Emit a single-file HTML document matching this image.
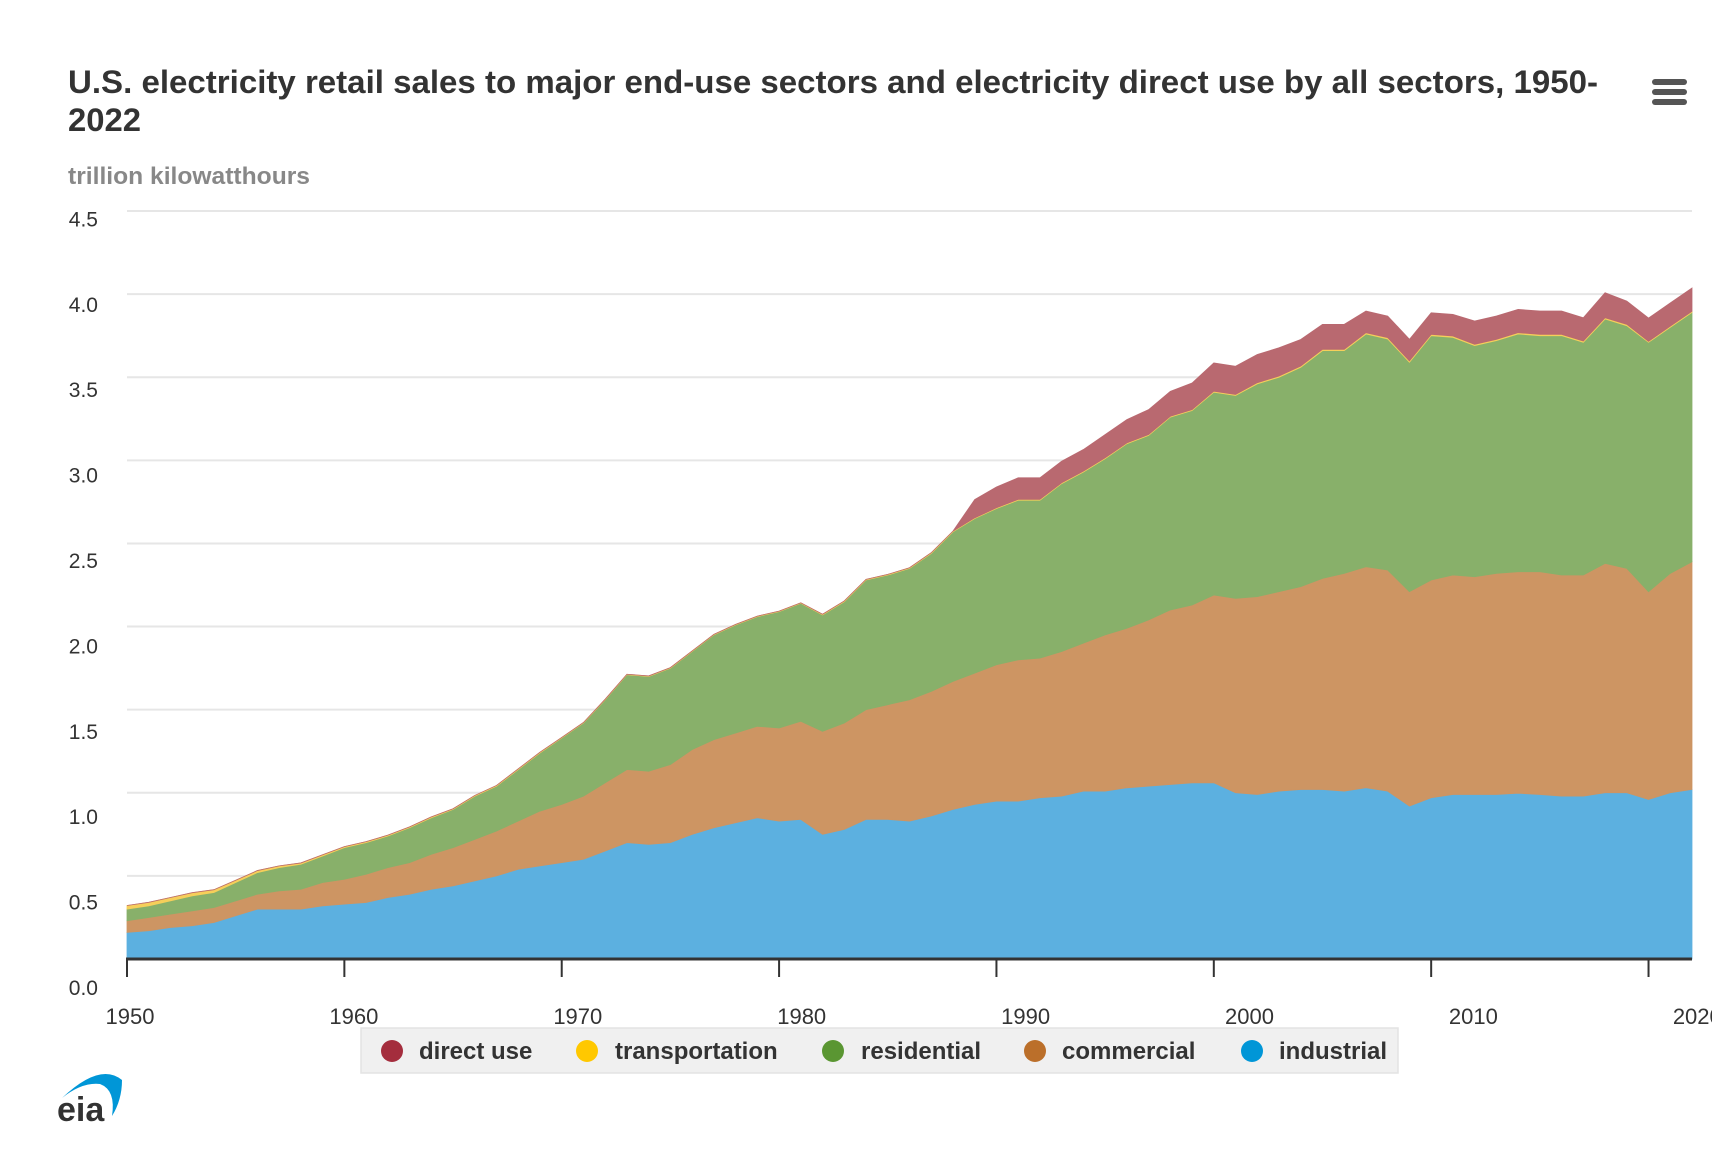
<!DOCTYPE html>
<html><head><meta charset="utf-8">
<style>
body{margin:0;background:#fff;width:1712px;height:1146px;overflow:hidden;font-family:"Liberation Sans",sans-serif;}
svg text{font-family:"Liberation Sans",sans-serif;}
</style></head>
<body>
<svg id="chart" width="1712" height="1146" xmlns="http://www.w3.org/2000/svg">
<text x="68" y="93" font-size="32" font-weight="bold" fill="#333" textLength="1530" lengthAdjust="spacingAndGlyphs">U.S. electricity retail sales to major end-use sectors and electricity direct use by all sectors, 1950-</text>
<text x="68" y="131" font-size="32" font-weight="bold" fill="#333" textLength="73" lengthAdjust="spacingAndGlyphs">2022</text>
<text x="68" y="184" font-size="24" font-weight="bold" fill="#888" textLength="242" lengthAdjust="spacingAndGlyphs">trillion kilowatthours</text>
<g fill="#555">
<rect x="1652" y="79" width="35" height="6" rx="3"/><rect x="1652" y="89" width="35" height="6" rx="3"/><rect x="1652" y="99" width="35" height="6" rx="3"/>
</g>
<g id="grid"></g><g id="areas"></g><g id="axes"></g>
<g>
<rect x="361" y="1028" width="1037" height="45" fill="#f0f0f0" stroke="#e3e3e3" stroke-width="1.5"/>
<g><circle cx="392" cy="1051" r="11" fill="#a42d3d"/><text x="419" y="1059" font-size="24" font-weight="bold" fill="#333">direct use</text></g>
<g><circle cx="587" cy="1051" r="11" fill="#ffc800"/><text x="615" y="1059" font-size="24" font-weight="bold" fill="#333">transportation</text></g>
<g><circle cx="833" cy="1051" r="11" fill="#5a9632"/><text x="861" y="1059" font-size="24" font-weight="bold" fill="#333">residential</text></g>
<g><circle cx="1035" cy="1051" r="11" fill="#bb6f2a"/><text x="1062" y="1059" font-size="24" font-weight="bold" fill="#333">commercial</text></g>
<g><circle cx="1252" cy="1051" r="11" fill="#0096d7"/><text x="1279" y="1059" font-size="24" font-weight="bold" fill="#333">industrial</text></g>
</g>
<g>
<path d="M62 1098 Q100 1062 122 1080 Q122 1100 112 1116 Q116 1090 100 1084 Q82 1082 62 1098Z" fill="#0096d7"/>
<text x="57" y="1121" font-size="34" font-weight="bold" fill="#333">eia</text>
</g>
</svg>
<script>
const years = [];
for (let y = 1950; y <= 2022; y++) years.push(y);
const industrial = [.16,.17,.19,.20,.22,.26,.30,.30,.30,.32, .33,.34,.37,.39,.42,.44,.47,.50,.54,.56, .58,.60,.65,.70,.69,.70,.75,.79,.82,.85, .83,.84,.75,.78,.84,.84,.83,.86,.90,.93, .95,.95,.97,.98,1.01,1.01,1.03,1.04,1.05,1.06, 1.06,1.00,.99,1.01,1.02,1.02,1.01,1.03,1.01,.92, .97,.99,.99,.99,.997,.99,.98,.98,1.00,1.00, .96,1.00,1.02];
const commercialTop = [.23,.25,.27,.29,.31,.35,.39,.41,.42,.46, .48,.51,.55,.58,.63,.67,.72,.77,.83,.89, .93,.98,1.06,1.14,1.13,1.17,1.26,1.32,1.36,1.40, 1.39,1.43,1.37,1.42,1.50,1.53,1.56,1.61,1.67,1.72, 1.77,1.80,1.81,1.85,1.90,1.95,1.99,2.04,2.10,2.13, 2.19,2.17,2.18,2.21,2.24,2.29,2.32,2.36,2.34,2.21, 2.28,2.31,2.30,2.32,2.33,2.33,2.31,2.31,2.38,2.35, 2.21,2.32,2.39];
const residentialTop = [.30,.32,.35,.38,.40,.46,.52,.55,.57,.62, .67,.70,.74,.79,.85,.90,.98,1.04,1.14,1.24, 1.33,1.42,1.56,1.71,1.70,1.75,1.85,1.95,2.01,2.06, 2.09,2.14,2.07,2.15,2.28,2.31,2.35,2.44,2.57,2.65, 2.71,2.76,2.76,2.86,2.93,3.01,3.10,3.15,3.26,3.30, 3.41,3.39,3.46,3.50,3.56,3.66,3.66,3.76,3.73,3.59, 3.75,3.74,3.69,3.72,3.76,3.75,3.75,3.71,3.85,3.81, 3.71,3.80,3.89];
const transportation = [.022,.021,.020,.019,.017,.014,.012,.010,.008,.007, .006,.006,.005,.005,.005,.004,.004,.004,.004,.004, .003,.003,.003,.003,.003,.003,.003,.003,.003,.003, .003,.003,.004,.004,.004,.004,.004,.004,.004,.004, .005,.005,.005,.005,.005,.005,.005,.005,.005,.005, .006,.006,.007,.007,.007,.008,.008,.008,.008,.008, .008,.008,.008,.008,.008,.008,.008,.008,.008,.008, .006,.007,.007];
const directUse = [0,0,0,0,0,0,0,0,0,0, 0,0,0,0,0,0,0,0,0,0, 0,0,0,0,0,0,0,0,0,0, 0,0,0,0,0,0,0,0,0,.11, .125,.13,.13,.13,.13,.14,.14,.15,.15,.16, .17,.17,.17,.17,.16,.15,.15,.13,.13,.13, .13,.13,.14,.14,.14,.14,.14,.14,.15,.14, .14,.14,.14];
const commercial = commercialTop.map((v,i)=>v-industrial[i]);
const residential = residentialTop.map((v,i)=>v-commercialTop[i]);
const yTickLabels = ["0.0","0.5","1.0","1.5","2.0","2.5","3.0","3.5","4.0","4.5"];
const xTickYears = [1950,1960,1970,1980,1990,2000,2010,2020];

const X0=127, X1=1692, Y0=959, YTOP=211, VMAX=4.5;
const xS = yr => X0 + (yr-1950)*(X1-X0)/72;
const yS = v => Y0 - v*(Y0-YTOP)/VMAX;
const NS="http://www.w3.org/2000/svg";
function mk(tag, attrs, parent){const e=document.createElementNS(NS,tag);for(const k in attrs)e.setAttribute(k,attrs[k]);parent.appendChild(e);return e;}

const grid=document.getElementById('grid');
yTickLabels.forEach((lab,i)=>{
  const v=i*0.5;
  if(i>0){const l=mk('line',{x1:X0,x2:X1,y1:yS(v),y2:yS(v),stroke:'#e6e6e6','stroke-width':2},grid);
  
  }
  // labels in reference are spaced slightly wider than gridlines
  const ly = 987 - i*85.4 + 8;
  const t=mk('text',{x:98,y:ly,'text-anchor':'end','font-size':21,fill:'#333'},grid);
  t.textContent=lab;
  
  
});

const series=[
  {name:'industrial',vals:industrial,fill:'#5cb0e0'},
  {name:'commercial',vals:commercial,fill:'#cd9563'},
  {name:'residential',vals:residential,fill:'#88b06a'},
  {name:'transportation',vals:transportation,fill:'#f6cf5a'},
  {name:'direct-use',vals:directUse,fill:'#b96970'}
];
const areas=document.getElementById('areas');
let base=years.map(()=>0);
series.forEach(s=>{
  const top=base.map((b,i)=>b+s.vals[i]);
  let d='M'+years.map((y,i)=>xS(y)+','+yS(top[i])).join('L');
  for(let i=years.length-1;i>=0;i--) d+='L'+xS(years[i])+','+yS(base[i]);
  d+='Z';
  const p=mk('path',{d:d,fill:s.fill,stroke:s.fill,'stroke-width':0.8},areas);
  
  
  base=top;
});

const axes=document.getElementById('axes');
const ax=mk('line',{x1:X0-1,x2:X1,y1:Y0,y2:Y0,stroke:'#333','stroke-width':3},axes);


xTickYears.forEach(y=>{
  const tk=mk('line',{x1:xS(y),x2:xS(y),y1:Y0,y2:Y0+18,stroke:'#333','stroke-width':2},axes);
  
  
  const t=mk('text',{x:130+(y-1950)*22.39,y:Y0+65,'text-anchor':'middle','font-size':22,fill:'#333'},axes);
  t.textContent=String(y);
  
  
});
</script>
</body></html>
